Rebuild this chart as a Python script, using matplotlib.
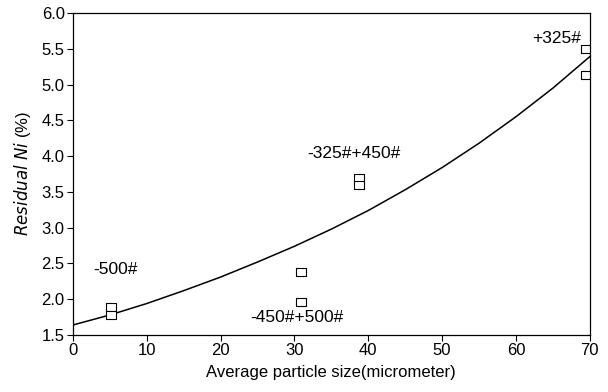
import numpy as np
import matplotlib.pyplot as plt

# measured points (two per size fraction)
size_um = [5.2, 5.2, 30.9, 30.9, 38.7, 38.7, 69.5, 69.5]
resid_ni = [1.89, 1.78, 2.38, 1.96, 3.69, 3.59, 5.50, 5.13]

# fitted curve
fit_x = [0, 5, 10, 15, 20, 25, 30, 35, 40, 45, 50, 55, 60, 65, 70]
fit_y = [1.64, 1.78, 1.94, 2.12, 2.31, 2.52, 2.74, 2.98, 3.24, 3.53, 3.84, 4.18, 4.55, 4.95, 5.39]

# fraction labels and where they sit
labels = ['-500#', '-450#+500#', '-325#+450#', '+325#']
label_x = [2.7, 24.0, 31.8, 62.2]
label_y = [2.41, 1.74, 4.04, 5.65]

plt.rcParams['font.family'] = ['Liberation Sans', 'DejaVu Sans']

fig = plt.figure(figsize=(6.08, 3.92), dpi=100)
ax = fig.add_axes([0.120, 0.1454, 0.850, 0.8214])

# squares in the scan are a bit wider than tall
box = [(-1, -0.7), (1, -0.7), (1, 0.7), (-1, 0.7), (-1, -0.7)]

ax.plot(fit_x, fit_y, color='black', lw=1.1)
ax.plot(size_um, resid_ni, ls='none', marker=box, ms=7.5, mfc='white',
        mec='black', mew=0.8)

for t, x, y in zip(labels, label_x, label_y):
    ax.text(x, y, t, fontsize=12.5, va='center', ha='left')

ax.set_xlim(0, 70)
ax.set_ylim(1.5, 6.0)
ax.set_xticks(np.arange(0, 71, 10))
ax.set_yticks(np.arange(1.5, 6.01, 0.5))
ax.set_yticklabels(['%.1f' % v for v in np.arange(1.5, 6.01, 0.5)])
ax.tick_params(direction='out', length=4, width=0.8, labelsize=12, pad=2)

ax.set_xlabel('Average particle size(micrometer)', fontsize=12, labelpad=5)
ax.set_ylabel('$\\it{Residual\\ Ni}$ (%)', fontsize=12, labelpad=6)

for s in ax.spines.values():
    s.set_linewidth(0.9)

fig.savefig('out.png', dpi=100)
